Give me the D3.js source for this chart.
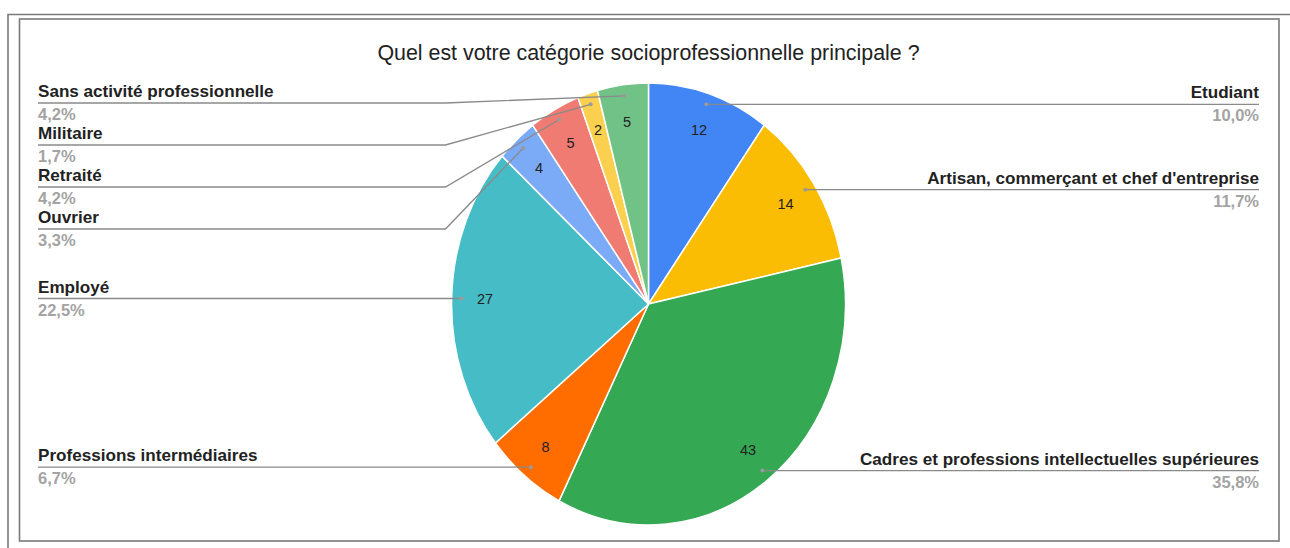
<!DOCTYPE html>
<html>
<head>
<meta charset="utf-8">
<script src="https://cdn.jsdelivr.net/npm/d3@7"></script>
<style>
  body { margin: 0; background: #fff; }
  text { font-family: "Liberation Sans", Arial, sans-serif; }
</style>
</head>
<body>
<svg id="chart" width="1290" height="548"></svg>
<script>
// DATA
const title = "Quel est votre catégorie socioprofessionnelle principale ?";
const categories = [
  "Etudiant",
  "Artisan, commerçant et chef d'entreprise",
  "Cadres et professions intellectuelles supérieures",
  "Professions intermédiaires",
  "Employé",
  "Ouvrier",
  "Retraité",
  "Militaire",
  "Sans activité professionnelle"
];
const counts = [12, 14, 43, 8, 27, 4, 5, 2, 5];
const colors = ["#4285f4", "#fbbc04", "#34a853", "#ff6d01", "#46bdc6", "#7baaf7", "#f07b72", "#fcd04f", "#71c287"];

// CANVAS SETUP
const svg = d3.select("#chart");
const cx = 648.5, cy = 304, rx = 197, ry = 221;
const lineGap = 42, topLimit = 103;
const leftX = 38, rightX = 1259;

// frames
svg.append("path")
  .attr("d", "M8,548 L8,14.5 L1290,14.5")
  .attr("fill", "none").attr("stroke", "#7a7a7a").attr("stroke-width", 1.6);
svg.append("rect")
  .attr("x", 19.5).attr("y", 19).attr("width", 1259.5).attr("height", 522)
  .attr("fill", "none").attr("stroke", "#7a7a7a").attr("stroke-width", 1.6);

svg.append("text")
  .attr("x", cx).attr("y", 60)
  .attr("text-anchor", "middle")
  .attr("font-size", 21.4).attr("fill", "#222")
  .text(title);

// DATA MANIPULATE
const total = d3.sum(counts);
const data = categories.map((c, i) => ({ name: c, value: counts[i], color: colors[i] }));
const arcs = d3.pie().sort(null).value((d) => d.value)(data);

const pt = (a, k) => [cx + k * rx * Math.sin(a), cy - k * ry * Math.cos(a)];
const fmt = (v) => (v * 100 / total).toFixed(1).replace(".", ",") + "%";

// RENDER
const pieG = svg.append("g").attr("transform", `translate(${cx},${cy}) scale(${rx},${ry})`);
const arc = d3.arc().innerRadius(0).outerRadius(1);

pieG.selectAll("path")
  .data(arcs)
  .join("path")
  .attr("d", arc)
  .attr("fill", (d) => d.data.color)
  .attr("stroke", "#fff")
  .attr("stroke-width", 1.5)
  .attr("vector-effect", "non-scaling-stroke");

svg.selectAll(".val")
  .data(arcs)
  .join("text")
  .attr("class", "val")
  .attr("x", (d) => pt((d.startAngle + d.endAngle) / 2, 0.83)[0])
  .attr("y", (d) => pt((d.startAngle + d.endAngle) / 2, 0.83)[1])
  .attr("dy", "0.35em")
  .attr("text-anchor", "middle")
  .attr("font-size", 14.5)
  .attr("fill", "#222")
  .text((d) => d.value);

// label layout: stack labels on each side, never above topLimit
const items = arcs.map((d) => {
  const mid = (d.startAngle + d.endAngle) / 2;
  const dot = pt(mid, 0.95);
  return { d, dot, right: mid < Math.PI };
});
["right", "left"].forEach((side) => {
  const list = items.filter((it) => (side === "right") === it.right).sort((a, b) => a.dot[1] - b.dot[1]);
  let prev = -Infinity;
  list.forEach((it) => {
    it.ly = Math.max(it.dot[1], prev + lineGap, topLimit);
    prev = it.ly;
  });
});

const labels = svg.append("g");
items.forEach((it) => {
  const knee = it.right ? cx + rx + 6 : cx - rx - 6;
  const endX = it.right ? rightX : leftX;
  const pts = Math.abs(it.ly - it.dot[1]) < 0.5
    ? [it.dot, [endX, it.ly]]
    : [it.dot, [knee, it.ly], [endX, it.ly]];
  labels.append("path")
    .attr("d", d3.line()(pts))
    .attr("fill", "none")
    .attr("stroke", "#8a8a8a")
    .attr("stroke-width", 1.3);
  labels.append("circle")
    .attr("cx", it.dot[0]).attr("cy", it.dot[1]).attr("r", 2)
    .attr("fill", "#9a9a9a");
  const anchor = it.right ? "end" : "start";
  labels.append("text")
    .attr("x", endX).attr("y", it.ly - 6)
    .attr("text-anchor", anchor)
    .attr("font-size", 17.1).attr("font-weight", "bold").attr("fill", "#222")
    .text(it.d.data.name);
  labels.append("text")
    .attr("x", endX).attr("y", it.ly + 17)
    .attr("text-anchor", anchor)
    .attr("font-size", 16.5).attr("font-weight", "bold").attr("fill", "#a3a3a3")
    .text(fmt(it.d.value));
});
</script>
</body>
</html>
